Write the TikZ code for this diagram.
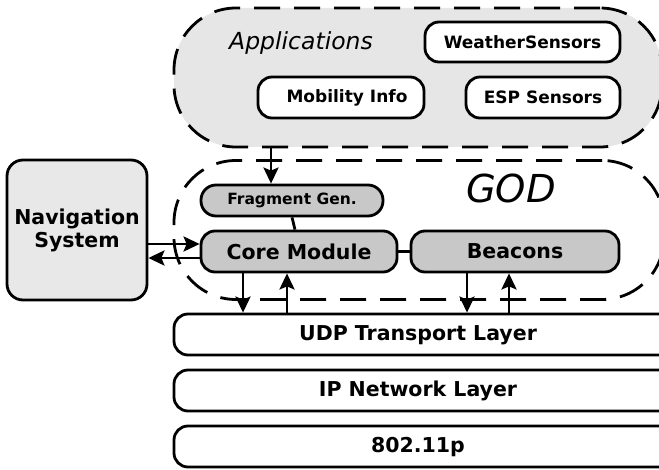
\documentclass[tikz,border=0pt]{standalone}
\usepackage{fontspec}
\setmainfont{DejaVu Sans}
\usetikzlibrary{arrows.meta,calc}
\definecolor{appfill}{HTML}{E6E6E6}
\definecolor{navfill}{HTML}{E8E8E8}
\definecolor{modfill}{HTML}{C8C8C8}
\begin{document}
\begin{tikzpicture}[x=1pt,y=-1pt,line width=2.8pt,
  region/.style={draw,dash pattern=on 26pt off 14pt,rounded corners=62pt,inner sep=0pt},
  box/.style={draw,rounded corners=14pt,inner sep=0pt,font=\bfseries\fontsize{20.5}{23}\selectfont,align=center},
  appbox/.style={box,fill=white,font=\bfseries\fontsize{17}{19}\selectfont},
  modbox/.style={box,fill=modfill},
  layer/.style={box,fill=white},
  lbl/.style={font=\bfseries\fontsize{20.5}{23}\selectfont},
  arr/.style={-{Stealth[length=16pt,width=15pt,inset=3pt]}}]
\useasboundingbox (0,0) rectangle (659,470);
\begin{scope}
\clip (0,0) rectangle (659,470);
% Applications region
\node[region,fill=appfill,minimum width=488pt,minimum height=139pt] (apps) at (418,77.5) {};
\node[font=\itshape\fontsize{23.5}{26}\selectfont] (appl) at (301,43) {Applications};
\node[appbox,minimum width=195pt,minimum height=40pt] (weather) at (522.5,42) {WeatherSensors};
\node[appbox,minimum width=166pt,minimum height=41pt] (mob) at (341,97.5) {\hspace{12pt}Mobility Info};
\node[appbox,minimum width=154pt,minimum height=41pt] (esp) at (543,97.5) {ESP Sensors};
% GOD region
\node[region,minimum width=490pt,minimum height=139pt] (god) at (419,230) {};
\node[font=\itshape\fontsize{38.5}{42}\selectfont] (godl) at (511,188) {GOD};
\end{scope}
% Navigation system
\node[box,fill=navfill,rounded corners=16pt,minimum width=140pt,minimum height=140pt] (nav) at (77,230) {Navigation\\System};
% modules
\node[modbox,rounded corners=15pt,minimum width=182pt,minimum height=31pt,font=\bfseries\fontsize{15.5}{17}\selectfont] (frag) at (292,200.5) {Fragment Gen.};
\node[modbox,minimum width=196pt,minimum height=41pt] (core) at (299,251.5) {Core Module};
\node[modbox,minimum width=208pt,minimum height=41pt] (beac) at (515,251.5) {Beacons};
% layers
\begin{scope}
\clip (0,0) rectangle (659,470);
\node[layer,minimum width=500pt,minimum height=41pt] (udp) at (424,334.5) {};
\node[layer,minimum width=500pt,minimum height=41pt] (ip) at (424,390.5) {};
\node[layer,minimum width=500pt,minimum height=41pt] (mac) at (424,446.5) {};
\end{scope}
\node[lbl] (udpl) at (418,335) {UDP Transport Layer};
\node[lbl] (ipl) at (418,391) {IP Network Layer};
\node[lbl] (macl) at (418,447) {802.11p};
% connectors
\draw (core) -- (beac);
\draw (frag.south) -- ([xshift=-4pt]core.north);
\coordinate (fa) at ([xshift=-21pt]frag.north);
\draw[arr] (fa |- apps.south) -- (fa);
\coordinate (n1) at ([yshift=7.5pt]core.west);
\coordinate (n2) at ([yshift=-6.5pt]core.west);
\draw[arr] (n1 -| nav.east) -- (n1);
\draw[arr] (n2) -- (n2 -| nav.east);
\coordinate (cd) at ([xshift=-56pt]core.south);
\coordinate (cu) at ([xshift=-12pt]core.south);
\draw[arr] (cd) -- (cd |- udp.north);
\draw[arr] (cu |- udp.north) -- (cu);
\coordinate (bd) at ([xshift=-48pt]beac.south);
\coordinate (bu) at ([xshift=-6pt]beac.south);
\draw[arr] (bd) -- (bd |- udp.north);
\draw[arr] (bu |- udp.north) -- (bu);
\end{tikzpicture}
\end{document}
